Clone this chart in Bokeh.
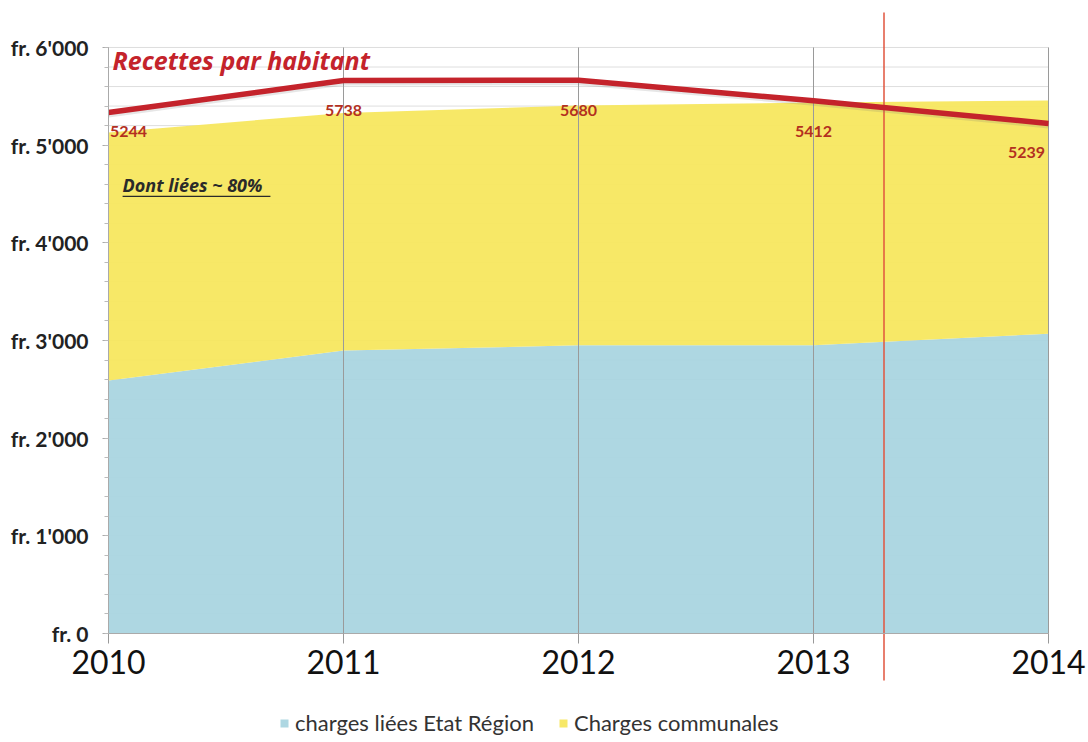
import numpy as np
from bokeh.plotting import figure
from bokeh.models import FixedTicker, Range1d, Legend, LegendItem, Label, ColumnDataSource
from bokeh.core.properties import value
from bokeh.embed import file_html
from bokeh.resources import INLINE

# ---- data ----
years = [2010, 2011, 2012, 2013, 2014]
charges_liees = [2590, 2897, 2950, 2950, 3070]
charges_communales = [2540, 2433, 2455, 2487, 2387]
recettes_line = [5334, 5662, 5665, 5455, 5222]
recettes_labels = [5244, 5738, 5680, 5412, 5239]
y_ticks = [0, 1000, 2000, 3000, 4000, 5000, 6000]
y_minor = list(range(0, 6001, 200))
y_tick_labels = ["fr. 0", "fr. 1'000", "fr. 2'000", "fr. 3'000", "fr. 4'000", "fr. 5'000", "fr. 6'000"]
marker_year = 2013.3
series_names = ["charges liées Etat Région", "Charges communales"]
title_text = "Recettes par habitant"
note_text = "Dont liées ~ 80%"

BLUE = "#A9D4E0"
YELLOW = "#F6E75E"
RED = "#C4232B"

# whole canvas is the frame; 2010 -> x=108 px, 2014 -> x=1048 px; 0 -> y=633 px, 6000 -> y=47 px
x_lo, x_hi = 2010 - 108 / 235.0, 2014 + 40 / 235.0
y_lo, y_hi = -1116, 6481

p = figure(width=1088, height=742, output_backend="svg", toolbar_location=None,
           x_range=Range1d(x_lo, x_hi), y_range=Range1d(y_lo, y_hi),
           min_border=0)
p.outline_line_color = None
p.background_fill_color = "white"
p.xgrid.visible = False
p.ygrid.visible = False

x0, x1 = years[0], years[-1]

# horizontal grid lines
p.segment(x0=x0, y0=y_minor, x1=x1, y1=y_minor, line_color="#dedede", line_width=1)

# areas
liees = np.array(charges_liees)
total = liees + np.array(charges_communales)
r_blue = p.varea(x=years, y1=np.zeros(len(years)), y2=liees, fill_color=BLUE, fill_alpha=0.94)
r_yel = p.varea(x=years, y1=liees, y2=total, fill_color=YELLOW, fill_alpha=0.94)

# vertical year lines
p.segment(x0=years, y0=y_ticks[0], x1=years, y1=y_ticks[-1], line_color="#9a9a9a", line_width=1)

# marker vertical line
p.segment(x0=[marker_year], y0=[6358], x1=[marker_year], y1=[-481], line_color="#E0553E", line_width=1.5)

# revenue line (with soft shadow)
p.line(x=years, y=[v - 25 for v in recettes_line], line_color="#777777", line_width=5, line_alpha=0.18)
p.line(x=years, y=recettes_line, line_color=RED, line_width=5.5)

src = ColumnDataSource(dict(x=years, y=recettes_line, t=[str(v) for v in recettes_labels],
                            xo=[20, 0, 0, 0, -22], yo=[19, 30, 30, 31, 29]))
p.text(x="x", y="y", text="t", x_offset="xo", y_offset="yo", source=src,
       text_align="center", text_baseline="middle", text_font=value("Lato"),
       text_font_style="bold", text_font_size="16px", text_color="#B3301F")

# title and note
p.add_layout(Label(x=2010.017, y=5867, text=title_text, text_font="Open Sans", text_font_style="bold italic",
                   text_font_size="25px", text_color=RED, text_baseline="middle"))
p.add_layout(Label(x=2010.06, y=4590, text=note_text, text_font="Open Sans", text_font_style="bold italic",
                   text_font_size="18px", text_color="#2a2a2a", text_baseline="middle"))
p.segment(x0=[2010.06], y0=[4475], x1=[2010.689], y1=[4475], line_color="#2a2a2a", line_width=1.3)

# axes
xa = p.xaxis[0]
xa.fixed_location = 0
xa.bounds = (x0, x1)
xa.ticker = FixedTicker(ticks=years)
xa.major_label_overrides = {y: str(y) for y in years}
xa.major_label_text_font = "Lato"
xa.major_label_text_font_size = "32px"
xa.major_label_text_color = "#111111"
xa.major_tick_out = 10
xa.major_tick_in = 0
xa.minor_tick_out = 0
xa.minor_tick_in = 0
xa.major_tick_line_color = "#999999"
xa.axis_line_color = "#aaaaaa"
xa.major_label_standoff = 6

ya = p.yaxis[0]
ya.fixed_location = x0
ya.bounds = (y_ticks[0], y_ticks[-1])
ya.ticker = FixedTicker(ticks=y_ticks, minor_ticks=y_minor)
ya.major_label_overrides = dict(zip(y_ticks, y_tick_labels))
ya.major_label_text_font = "Lato"
ya.major_label_text_font_style = "bold"
ya.major_label_text_font_size = "21px"
ya.major_label_text_color = "#222222"
ya.axis_line_color = "#aaaaaa"
ya.major_tick_line_color = "#aaaaaa"
ya.minor_tick_line_color = "#bbbbbb"
ya.major_tick_out = 6
ya.major_tick_in = 0
ya.minor_tick_out = 4
ya.minor_tick_in = 0
ya.major_label_standoff = 14

legend = Legend(items=[LegendItem(label=series_names[0], renderers=[r_blue]),
                       LegendItem(label=series_names[1], renderers=[r_yel])],
                orientation="horizontal", location=(279, 6), padding=8,
                background_fill_alpha=0, border_line_color=None,
                glyph_width=10, glyph_height=10, label_standoff=6, spacing=24,
                label_text_font="Lato", label_text_font_size="22px", label_text_color="#333333")
p.add_layout(legend, "center")

open("out.html", "w").write(file_html(p, INLINE))
